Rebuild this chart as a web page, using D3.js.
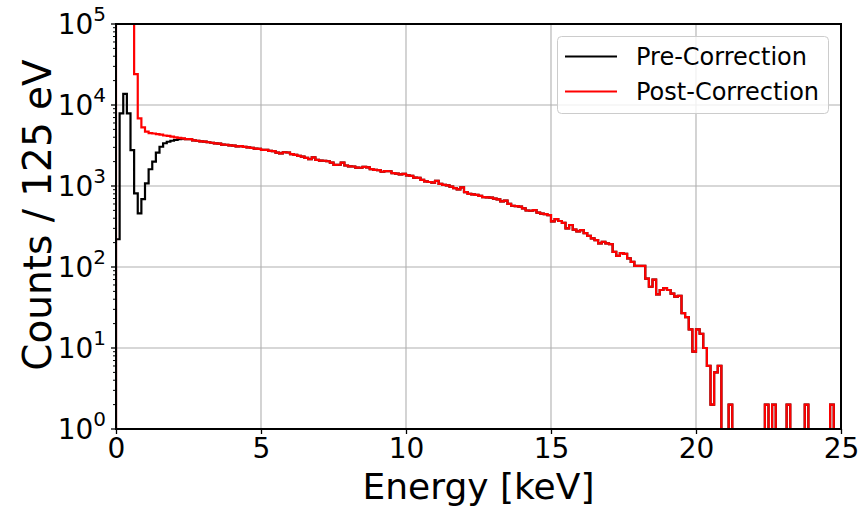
<!DOCTYPE html>
<html>
<head>
<meta charset="utf-8">
<script src="https://cdn.jsdelivr.net/npm/d3@7"></script>
<style>
  body { margin: 0; background: #fff; }
  text { font-family: "DejaVu Sans", sans-serif; }
</style>
</head>
<body>
<svg id="chart" width="862" height="508"></svg>
<script>
// Histogram bins: 125 eV wide, 0 to 25 keV (200 bins)
const binWidth = 0.125;

// Counts per bin after correction
const postCorrection = [
  300000, 250000, 200000, 180000, 150000, 24000, 6850, 5300, 4700, 4500,
  4450, 4380, 4320, 4200, 4150, 4060, 3980, 3920, 3880, 3800,
  3780, 3650, 3620, 3560, 3540, 3470, 3420, 3360, 3330, 3250,
  3230, 3180, 3160, 3090, 3100, 3040, 2990, 2960, 2900, 2870,
  2800, 2790, 2710, 2690, 2580, 2530, 2610, 2590, 2470, 2420,
  2350, 2300, 2230, 2140, 2260, 2100, 2060, 2050, 2020, 1940,
  1820, 1830, 1940, 1790, 1750, 1740, 1690, 1680, 1720, 1700,
  1620, 1580, 1570, 1500, 1530, 1520, 1440, 1420, 1390, 1410,
  1350, 1330, 1270, 1260, 1190, 1140, 1120, 1100, 1160, 1060,
  1030, 1020, 980, 940, 910, 960, 840, 800, 790, 775,
  755, 730, 725, 720, 700, 685, 645, 660, 600, 570,
  565, 555, 530, 498, 495, 505, 469, 455, 450, 438,
  365, 390, 370, 350, 300, 330, 290, 275, 285, 262,
  242, 226, 215, 196, 205, 196, 192, 154, 137, 148,
  145, 128, 116, 103, 103, 103, 72, 57, 70, 46,
  52, 55, 52, 47, 43, 44, 27, 24, 17, 9,
  17, 15, 10, 6, 2, 5, 6, 0, 0, 2,
  0, 0, 0, 0, 0, 0, 0, 0, 0, 2,
  0, 2, 0, 0, 0, 2, 0, 0, 0, 0,
  2, 0, 0, 0, 0, 0, 0, 2, 0, 0
];

// Counts per bin before correction: differs only in the lowest bins
const preCorrectionLow = [
  220, 7900, 13700, 7900, 2780, 813, 460, 690, 1080, 1610,
  2000, 2580, 3050, 3370, 3520, 3620, 3700, 3780, 3830
];
const preCorrection = preCorrectionLow.concat(postCorrection.slice(preCorrectionLow.length));

const xTickValues = [0, 5, 10, 15, 20, 25];
const yDecades = [0, 1, 2, 3, 4, 5];
const seriesNames = ["Pre-Correction", "Post-Correction"];
const seriesColors = ["#000000", "#ff0000"];
const xTitle = "Energy [keV]";
const yTitle = "Counts / 125 eV";

const svg = d3.select("#chart");
const plot = { left: 116, top: 24, right: 841, bottom: 429 };

const x = d3.scaleLinear().domain([0, 25]).range([plot.left, plot.right]);
const y = d3.scaleLog().domain([1, 1e5]).range([plot.bottom, plot.top]);

svg.append("rect").attr("width", 862).attr("height", 508).attr("fill", "#fff");

svg.append("defs").append("clipPath").attr("id", "plotClip")
  .append("rect")
  .attr("x", plot.left).attr("y", plot.top)
  .attr("width", plot.right - plot.left).attr("height", plot.bottom - plot.top);

// Grid
const grid = svg.append("g").attr("stroke", "#b0b0b0").attr("stroke-width", 1.1);
xTickValues.forEach(t => {
  grid.append("line").attr("x1", x(t)).attr("x2", x(t))
    .attr("y1", plot.top).attr("y2", plot.bottom);
});
yDecades.forEach(e => {
  grid.append("line").attr("x1", plot.left).attr("x2", plot.right)
    .attr("y1", y(Math.pow(10, e))).attr("y2", y(Math.pow(10, e)));
});

// Step outline of a histogram
function stepPoints(vals) {
  const pts = [[0, 0]];
  vals.forEach((v, i) => pts.push([i * binWidth, v]));
  pts.push([vals.length * binWidth, vals[vals.length - 1]]);
  pts.push([vals.length * binWidth, 0]);
  return pts;
}
const yPos = v => (v > 0 ? y(v) : plot.bottom + 40);
const stepLine = d3.line()
  .x(d => x(d[0]))
  .y(d => yPos(d[1]))
  .curve(d3.curveStepAfter);

const data = svg.append("g").attr("clip-path", "url(#plotClip)");
[preCorrection, postCorrection].forEach((vals, i) => {
  data.append("path")
    .attr("d", stepLine(stepPoints(vals)))
    .attr("fill", "none")
    .attr("stroke", seriesColors[i])
    .attr("stroke-width", 2.2)
    .attr("stroke-linejoin", "miter");
});

// X axis
const xAxis = svg.append("g")
  .attr("transform", `translate(0,${plot.bottom})`)
  .call(d3.axisBottom(x).tickValues(xTickValues).tickSize(5).tickPadding(4).tickFormat(d3.format("d")));
xAxis.select(".domain").remove();
xAxis.selectAll(".tick line").attr("stroke", "#000").attr("stroke-width", 1.3);
xAxis.selectAll(".tick text").attr("font-size", 28).attr("fill", "#000")
  .attr("font-family", "DejaVu Sans, sans-serif");

// Y axis (log, with minor ticks)
const yAxis = svg.append("g");
const minor = [];
for (let e = 0; e < 5; e++) for (let m = 2; m <= 9; m++) minor.push(m * Math.pow(10, e));
minor.forEach(v => {
  yAxis.append("line").attr("x1", plot.left - 3).attr("x2", plot.left)
    .attr("y1", y(v)).attr("y2", y(v)).attr("stroke", "#000").attr("stroke-width", 1);
});
yDecades.forEach(e => {
  const yy = y(Math.pow(10, e));
  yAxis.append("line").attr("x1", plot.left - 5).attr("x2", plot.left)
    .attr("y1", yy).attr("y2", yy).attr("stroke", "#000").attr("stroke-width", 1.3);
  const lbl = yAxis.append("text")
    .attr("x", plot.left - 10).attr("y", yy + 10)
    .attr("text-anchor", "end").attr("fill", "#000");
  lbl.append("tspan").attr("font-size", 28).text("10");
  lbl.append("tspan").attr("font-size", 20).attr("dy", -13).text(String(e));
});

// Axes frame
svg.append("rect")
  .attr("x", plot.left).attr("y", plot.top)
  .attr("width", plot.right - plot.left).attr("height", plot.bottom - plot.top)
  .attr("fill", "none").attr("stroke", "#000").attr("stroke-width", 2);

// Axis titles
svg.append("text").attr("x", (plot.left + plot.right) / 2).attr("y", 499)
  .attr("text-anchor", "middle").attr("font-size", 36).attr("fill", "#000").text(xTitle);
svg.append("text")
  .attr("transform", `translate(51,215) rotate(-90)`)
  .attr("text-anchor", "middle").attr("font-size", 39).attr("fill", "#000").text(yTitle);

// Legend
const legend = svg.append("g");
legend.append("rect")
  .attr("x", 557.5).attr("y", 36.5).attr("width", 271).attr("height", 77).attr("rx", 4)
  .attr("fill", "#fff").attr("fill-opacity", 0.8).attr("stroke", "#cccccc").attr("stroke-width", 1);
seriesNames.forEach((name, i) => {
  const ly = 56.5 + i * 35;
  legend.append("line").attr("x1", 565).attr("x2", 617).attr("y1", ly).attr("y2", ly)
    .attr("stroke", seriesColors[i]).attr("stroke-width", 2);
  legend.append("text").attr("x", 636).attr("y", ly + 8.5)
    .attr("font-size", 24).attr("fill", "#000").text(name);
});
</script>
</body>
</html>
